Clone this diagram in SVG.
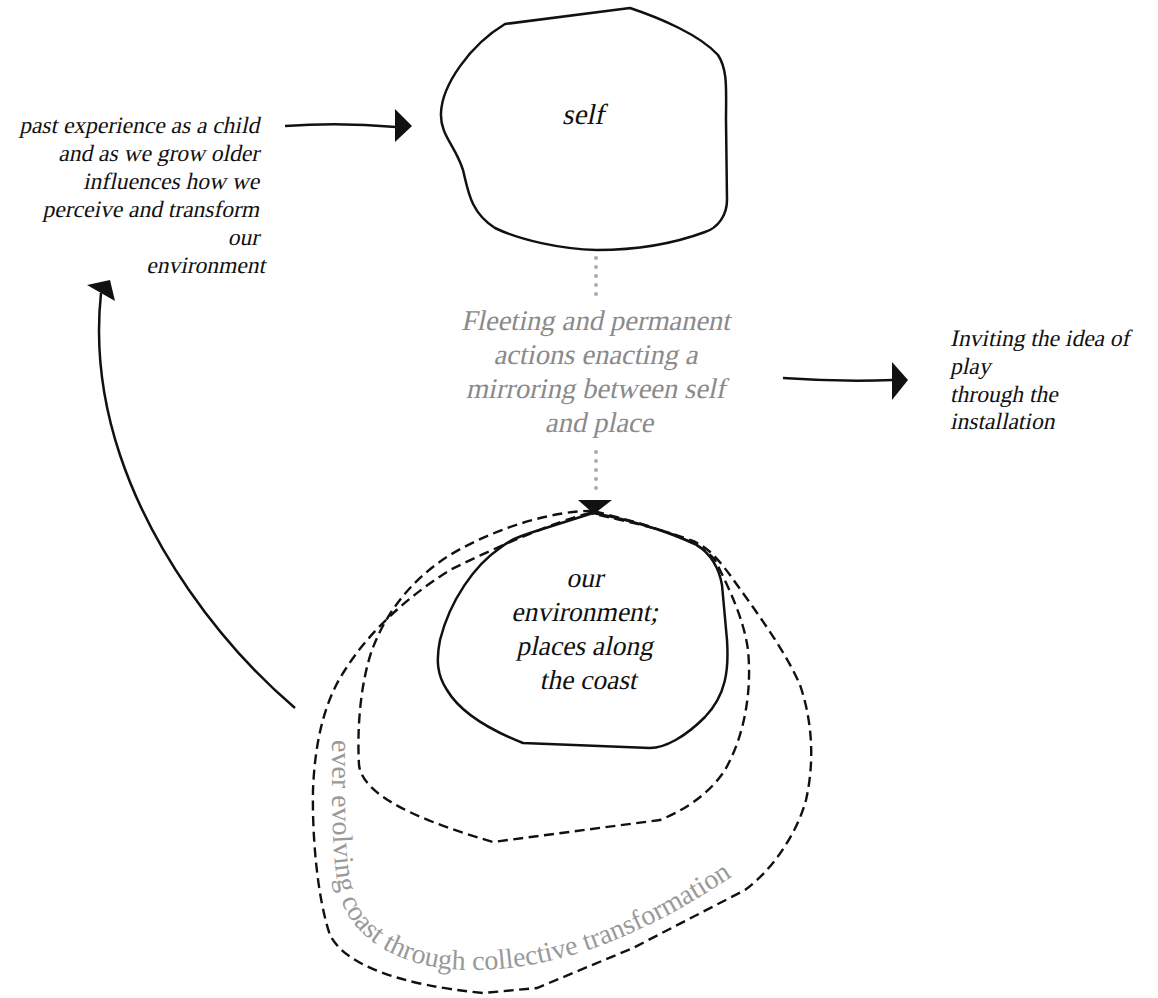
<svg xmlns="http://www.w3.org/2000/svg" width="1158" height="998" viewBox="0 0 1158 998">
<style>
.t{font-family:"Liberation Serif","Times New Roman",serif;font-style:normal;fill:#111}
.g{fill:#8a8a8a}
.blob{fill:none;stroke:#111;stroke-width:2.5;stroke-linejoin:round}
.dash{fill:none;stroke:#111;stroke-width:2.4;stroke-dasharray:10 5.5}
.shaft{fill:none;stroke:#111;stroke-width:2.5}
.head{fill:#111}
.dots{fill:none;stroke:#aaa;stroke-width:4;stroke-linecap:round;stroke-dasharray:0 9}
</style>
<rect width="1158" height="998" fill="#fff"/>
<defs>
<path id="coastPath" d="M 332 740 C 332 800 331 860 340 895 C 350 935 390 960 440 968 C 500 975 560 962 610 942 C 660 922 700 898 745 868"/>
</defs>

<g id="self">
<path class="blob" d="M 505 24 L 630 8 C 660 18 700 35 718 55 C 728 70 726 90 726 120 L 727 200 C 727 215 718 228 705 232 C 670 245 630 250 597 250 C 560 249 520 240 495 228 C 470 212 468 190 463 170 C 455 145 440 135 441 113 C 442 85 470 45 505 24 Z"/>
<text class="t" transform="skewX(-12)" x="609.4" y="124" font-size="29" text-anchor="middle">self</text>
</g>

<g id="past-experience">
<text class="t" transform="skewX(-12)" font-size="23.5" text-anchor="end">
<tspan x="293.3" y="133">past experience as a child</tspan>
<tspan x="299.2" y="161">and as we grow older</tspan>
<tspan x="305.2" y="189">influences how we</tspan>
<tspan x="311.1" y="217">perceive and transform</tspan>
<tspan x="317.1" y="245">our</tspan>
<tspan x="323.0" y="273">environment</tspan>
</text>
</g>

<g id="mirroring">
<text class="t g" transform="skewX(-12)" font-size="28.5" text-anchor="middle">
<tspan x="669.2" y="330">Fleeting and permanent</tspan>
<tspan x="676.4" y="364">actions enacting a</tspan>
<tspan x="683.6" y="398">mirroring between self</tspan>
<tspan x="690.8" y="432">and place</tspan>
</text>
</g>

<g id="play">
<text class="t" transform="skewX(-12)" font-size="23.5">
<tspan x="1023.6" y="346">Inviting the idea of</tspan>
<tspan x="1029.5" y="374">play</tspan>
<tspan x="1035.5" y="402">through the</tspan>
<tspan x="1041.2" y="429">installation</tspan>
</text>
</g>

<g id="coast-loops">
<path class="dash" d="M 590 513 C 560 520 500 545 450 570 C 410 595 370 630 345 670 C 325 700 315 740 313 790 C 312 840 318 900 330 935 C 345 965 400 985 483 993 L 537 988 L 633 948 L 745 890 C 775 868 798 830 806 800 C 815 760 812 720 800 685 C 785 650 755 610 730 575 C 715 555 705 545 690 540 C 660 528 620 520 590 513 Z"/>
<path class="dash" d="M 593 511 C 560 510 500 525 450 555 C 410 580 385 615 372 650 C 360 685 357 730 359 765 C 362 790 400 815 493 842 L 660 820 C 690 808 712 790 725 770 C 745 735 752 690 748 650 C 744 620 730 590 715 560 C 700 540 650 525 593 511 Z"/>
<text class="t" font-size="28" style="fill:#999"><textPath href="#coastPath">ever evolving coast through collective transformation</textPath></text>
</g>

<g id="environment">
<path class="blob" d="M 593 513 C 620 518 660 528 697 545 C 712 555 719 568 722 585 L 727 640 C 729 670 726 695 705 717 C 685 737 665 748 650 748 L 523 743 C 490 730 460 712 447 690 C 437 675 436 660 440 640 C 450 600 475 565 500 548 C 510 540 518 537 530 533 L 593 513 Z"/>
<text class="t" transform="skewX(-12)" font-size="27.5" text-anchor="middle">
<tspan x="712.8" y="587">our</tspan>
<tspan x="720.0" y="621">environment;</tspan>
<tspan x="727.2" y="655">places along</tspan>
<tspan x="734.5" y="689">the coast</tspan>
</text>
</g>

<g id="connectors">
<path class="shaft" d="M 285 126 Q 340 122 396 127"/>
<polygon class="head" points="395,109 412,126 395,142"/>
<path class="shaft" d="M 783 378 Q 840 382 893 380"/>
<polygon class="head" points="892,362 908,380 892,400"/>
<path class="shaft" d="M 295 708 C 215 640 150 545 120 455 C 100 395 96 340 101 293"/>
<polygon class="head" points="87,285 110,280 115,301"/>
<path class="dots" d="M 596 258 L 596 298"/>
<path class="dots" d="M 596 452 L 596 494"/>
<polygon class="head" points="578,500 612,500 594,514"/>
</g>
</svg>
